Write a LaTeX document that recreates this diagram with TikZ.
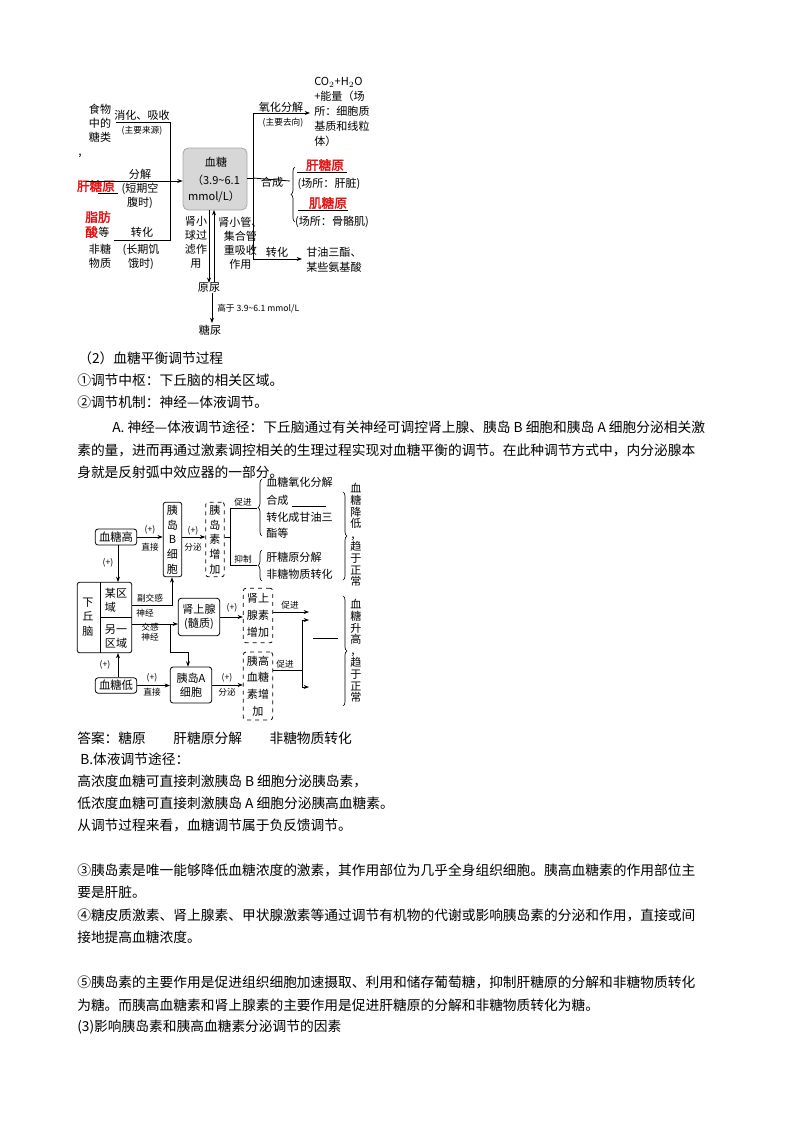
\documentclass[tikz,border=0pt]{standalone}
\usepackage{fontspec}
\setmainfont{Noto Sans CJK SC}
\newfontfamily\bfc{Noto Sans CJK SC}[FakeBold=2.5]
\usetikzlibrary{arrows.meta,decorations.pathreplacing}
\definecolor{boxgray}{RGB}{215,215,215}
\definecolor{redt}{RGB}{230,20,20}
\tikzset{
 body/.style={anchor=west,inner sep=0,font=\fontsize{10.3pt}{12pt}\selectfont},
 dt/.style={inner sep=0,font=\fontsize{8.3pt}{10.5pt}\selectfont,align=center},
 st/.style={inner sep=0,font=\fontsize{6.5pt}{8pt}\selectfont,align=center},
 vt/.style={inner sep=0,font=\fontsize{8.3pt}{11pt}\selectfont,align=center},
 vt2/.style={inner sep=0,font=\fontsize{8.3pt}{8.7pt}\selectfont,align=center},
 rd/.style={inner sep=0,font=\fontsize{9.5pt}{11pt}\selectfont\bfc,text=redt},
 ln/.style={line width=0.6pt},
 ar/.style={line width=0.6pt,-{Stealth[length=4pt,width=3pt]}},
 rbox/.style={draw,rounded corners=2pt,line width=0.6pt},
 dbox/.style={draw,dashed,rounded corners=2pt,line width=0.6pt},
 br/.style={decorate,decoration={brace,amplitude=3pt},line width=0.5pt}
}
\begin{document}
\begin{tikzpicture}[x=0.75pt,y=-0.75pt]
\useasboundingbox (0,0) rectangle (800,1132);
% ===== top diagram =====
\node[draw=gray!70,fill=boxgray,rounded corners=4pt,minimum width=48pt,minimum height=46.5pt,line width=0.6pt] (bs) at (215,179) {};
\node[dt] (bs1) at (216,162) {血糖};
\node[dt] (bs2) at (216,180) {（3.9\textasciitilde6.1};
\node[dt] (bs3) at (214,197) {mmol/L）};
\node[dt] (food) at (100,123) {食物\\中的\\糖类};
\node[dt] (xh1) at (142,115) {消化、吸收};
\node[st] (xh2) at (142,131) {(主要来源)};
\coordinate (c1a) at (116,122); \coordinate (c1b) at (170,122);
\coordinate (c1c) at (170,240); \coordinate (c1d) at (114,240);
\draw[ln] (c1a) -- (c1b) -- (c1c) -- (c1d);
\node[inner sep=0,font=\fontsize{9pt}{9pt}\selectfont] (comma) at (80,156) {,};
\node[rd] (gty) at (96,186) {肝糖原};
\coordinate (gtyl) at (86,181); \coordinate (gtyu) at (118,193);
\draw[ar] (gtyl) -- (bs.west |- gtyl);
\draw[ln] (gtyu) -- (98,193);
\node[dt] (fj) at (140,174) {分解};
\node[dt] (fj2) at (140,196) {(短期空\\腹时)};
\node[rd,anchor=west] (zf1) at (85,217) {脂肪};
\node[rd,anchor=west] (zf2) at (85,232) {酸};
\node[dt,anchor=west] (zf3) at (98,232) {等};
\node[dt] (zf4) at (100,256) {非糖\\物质};
\node[dt] (zh) at (142,232) {转化};
\node[dt] (zh2) at (141,257) {(长期饥\\饿时)};
% right
\coordinate (r0) at (253,178);
\coordinate (rt) at (253,113); \coordinate (rb) at (253,259);
\draw[ln] (bs.east |- r0) -- (r0);
\draw[ln] (rt) -- (rb);
\node[inner sep=0,font=\fontsize{8.3pt}{11.3pt}\selectfont,align=left,anchor=north west] (co) at (314,77) {CO$_2$+H$_2$O\\+能量（场\\所：细胞质\\基质和线粒\\体）};
\draw[ar] (rt) -- (310,113);
\node[dt] (yh) at (281,107) {氧化分解};
\node[st] (yh2) at (283,123) {(主要去向)};
\coordinate (hc) at (290,181);
\draw[ln] (r0) -- (hc);
\node[dt] (hcl) at (272,182) {合成};
\draw[br] (295,222) -- (295,167);
\node[rd] (gty2) at (325,165) {肝糖原};
\draw[ln] (297,172) -- (347,172);
\node[dt] (cs1) at (329,184) {(场所：肝脏)};
\node[rd] (jty) at (328,203) {肌糖原};
\draw[ln] (298,210) -- (348,210);
\node[dt] (cs2) at (332,222) {(场所：骨骼肌)};
\draw[ar] (rb) -- (302,259);
\node[dt] (zh3) at (277,252) {转化};
\node[dt,anchor=west] (gy) at (306,252) {甘油三酯、};
\node[dt,anchor=west] (aa) at (306,267) {某些氨基酸};
% down
\node[dt] (yn) at (209,288) {原尿};
\draw[ar] (209,210) -- (yn.north -| 209,0);
\draw[ar] (214,282) -- (214,210);
\node[dt] (sxq) at (196,242) {肾小\\球过\\滤作\\用};
\node[dt,anchor=north west] (sxg) at (218,217) {肾小管、\\集合管\\重吸收\\作用};
\draw[ar] (yn.south -| 212,0) -- (212,323);
\node[st,anchor=west] (gy2) at (217,309) {高于 3.9\textasciitilde6.1 mmol/L};
\node[dt] (tn) at (210,330) {糖尿};
% ===== text =====
\node[body] (l1) at (78,358) {（2）血糖平衡调节过程};
\node[body] (l2) at (77,380) {①调节中枢：下丘脑的相关区域。};
\node[body] (l3) at (77,402) {②调节机制：神经—体液调节。};
\node[body] (l4) at (112,427) {A. 神经—体液调节途径：下丘脑通过有关神经可调控肾上腺、胰岛 B 细胞和胰岛 A 细胞分泌相关激};
\node[body] (l5) at (77,450) {素的量，进而再通过激素调控相关的生理过程实现对血糖平衡的调节。在此种调节方式中，内分泌腺本};
\node[body] (l6) at (77,472) {身就是反射弧中效应器的一部分。};
\node[body] (l7) at (77,738) {答案：糖原\quad\quad 肝糖原分解\quad\quad 非糖物质转化};
\node[body] (l8) at (80,759) {B.体液调节途径：};
\node[body] (l9) at (77,781) {高浓度血糖可直接刺激胰岛 B 细胞分泌胰岛素，};
\node[body] (l10) at (77,803) {低浓度血糖可直接刺激胰岛 A 细胞分泌胰高血糖素。};
\node[body] (l11) at (77,825) {从调节过程来看，血糖调节属于负反馈调节。};
\node[body] (l12) at (77,870) {③胰岛素是唯一能够降低血糖浓度的激素，其作用部位为几乎全身组织细胞。胰高血糖素的作用部位主};
\node[body] (l13) at (77,892) {要是肝脏。};
\node[body] (l14) at (77,915) {④糖皮质激素、肾上腺素、甲状腺激素等通过调节有机物的代谢或影响胰岛素的分泌和作用，直接或间};
\node[body] (l15) at (77,937) {接地提高血糖浓度。};
\node[body] (l16) at (77,982) {⑤胰岛素的主要作用是促进组织细胞加速摄取、利用和储存葡萄糖，抑制肝糖原的分解和非糖物质转化};
\node[body] (l17) at (77,1005) {为糖。而胰高血糖素和肾上腺素的主要作用是促进肝糖原的分解和非糖物质转化为糖。};
\node[body] (l18) at (77,1027) {(3)影响胰岛素和胰高血糖素分泌调节的因素};
% ===== second diagram =====
\node[rbox,minimum width=31pt,minimum height=12pt,inner sep=0,font=\fontsize{8.5pt}{10pt}\selectfont] (xg) at (116,537) {血糖高};
\node[rbox,minimum width=14pt,minimum height=56pt,inner sep=0,vt] (bc) at (172.5,539.5) {胰\\岛\\B\\细\\胞};
\node[dbox,minimum width=14pt,minimum height=56pt,inner sep=0,vt] (yds) at (215,539.5) {胰\\岛\\素\\增\\加};
\draw[ar] (xg) -- (bc.west |- xg);
\node[st] (p1) at (150,530) {(+)};
\node[st] (p1b) at (150,547) {直接};
\draw[ar] (bc.east |- xg) -- (yds.west |- xg);
\node[st] (p2) at (193,531) {(+)};
\node[st] (p2b) at (193,547) {分泌};
\coordinate (j1) at (230,537); \coordinate (j1t) at (230,508); \coordinate (j1b) at (230,565);
\draw[ln] (yds.east |- j1) -- (j1);
\draw[ln] (j1t) -- (j1b);
\draw[ln] (j1t) -- (257,508);
\draw[ln] (j1b) -- (257,565);
\node[st] (cj1) at (243,502) {促进};
\node[st] (yz) at (243,559) {抑制};
\draw[br] (262,536) -- (262,479);
\draw[br] (262,581) -- (262,550);
\node[dt,anchor=west] (e1) at (266,482) {血糖氧化分解};
\node[dt,anchor=west] (e2) at (266,500) {合成};
\draw[ln] (292,506) -- (326,506);
\node[dt,anchor=west] (e3) at (266,517) {转化成甘油三};
\node[dt,anchor=west] (e4) at (266,533) {酯等};
\node[dt,anchor=west] (e5) at (266,557) {肝糖原分解};
\node[dt,anchor=west] (e6) at (266,574) {非糖物质转化};
\draw[br] (343,492) -- (343,580);
\node[vt2] (r1) at (356,535) {血\\糖\\降\\低\\，\\趋\\于\\正\\常};
% hypothalamus
\node[rbox,minimum width=41pt,minimum height=53pt,inner sep=0] (xqn) at (104.5,617.5) {};
\draw[ln] (100,582) -- (100,653);
\draw[ln] (100,617) -- (132,617);
\node[vt] (xqt) at (88,617) {下\\丘\\脑};
\node[dt,align=left] (mq) at (116,600) {某区\\域};
\node[dt,align=left] (lq) at (116,637) {另一\\区域};
\draw[ar] (xg.south -| 118,0) -- (118,582);
\node[st] (p3) at (108,563) {(+)};
\coordinate (fj1) at (172,605);
\draw[ar] (132,605) -- (fj1) -- (fj1 |- bc.south);
\node[st] (fjs) at (150,598) {副交感};
\node[st] (fjs2) at (145,613) {神经};
\node[rbox,minimum width=31pt,minimum height=28pt,inner sep=0,dt] (ss) at (199,617) {肾上腺\\(髓质)};
\draw[ar] (132,624) -- (ss.west |- 0,624);
\node[st] (jg) at (150,632) {交感\\神经};
\node[rbox,minimum width=31pt,minimum height=27pt,inner sep=0,dt] (ac) at (191,685) {胰岛A\\细胞};
\coordinate (jg1) at (170,624); \coordinate (jg2) at (170,652); \coordinate (jg3) at (188,652);
\draw[ar] (jg1) -- (jg2) -- (jg3) -- (jg3 |- ac.north);
\node[dbox,minimum width=22pt,minimum height=41pt,inner sep=0,dt,font=\fontsize{8.3pt}{13pt}\selectfont] (sss) at (258,615.5) {肾上\\腺素\\增加};
\draw[ar] (ss) -- (sss.west |- ss);
\node[st] (p4) at (232,608) {(+)};
\node[rbox,minimum width=31pt,minimum height=11.5pt,inner sep=0,font=\fontsize{8.5pt}{10pt}\selectfont] (xd) at (116,685.5) {血糖低};
\draw[ar] (xd.north -| 118,0) -- (118,653);
\node[st] (p5) at (105,665) {(+)};
\draw[ar] (xd) -- (ac.west |- xd);
\node[st] (p6) at (152,678) {(+)};
\node[st] (p6b) at (152,692) {直接};
\node[dbox,minimum width=22pt,minimum height=51pt,inner sep=0,dt,font=\fontsize{8.3pt}{12.5pt}\selectfont] (ygx) at (258,686) {胰高\\血糖\\素增\\加};
\draw[ar] (ac) -- (ygx.west |- ac);
\node[st] (p7) at (227,678) {(+)};
\node[st] (p7b) at (227,692) {分泌};
\coordinate (o1) at (309,612);
\draw[ar] (sss.east |- o1) -- (o1);
\node[st] (cj2) at (290,605) {促进};
\coordinate (v1) at (302,620); \coordinate (v2) at (302,687); \coordinate (v3) at (302,670);
\draw[ln] (v1) -- (v2);
\draw[ar] (v1) -- (309,620);
\draw[ar] (v2) -- (309,687);
\draw[ln] (ygx.east |- v3) -- (v3);
\node[st] (cj3) at (285,664) {促进};
\draw[ln] (313,638) -- (338,638);
\draw[br] (343,596) -- (343,706);
\node[vt2] (r2) at (356,651) {血\\糖\\升\\高\\，\\趋\\于\\正\\常};
\end{tikzpicture}
\end{document}
